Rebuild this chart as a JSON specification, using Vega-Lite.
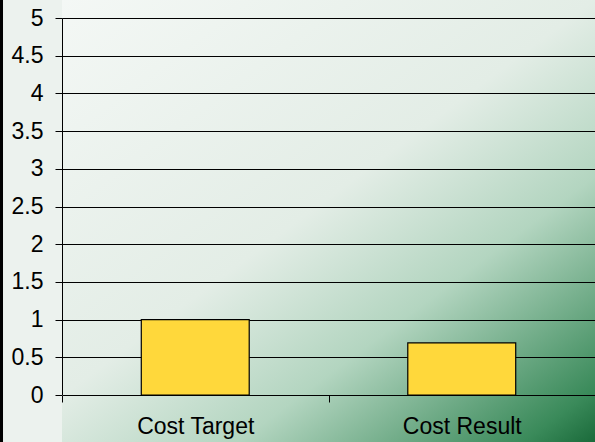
{
  "$schema": "https://vega.github.io/schema/vega-lite/v6.json",
  "width": 533,
  "height": 377,
  "padding": {"left": 62, "top": 18, "right": 0, "bottom": 47},
  "autosize": {"type": "none"},
  "background": "#ecf2ee",
  "view": {
    "stroke": null,
    "fill": {
      "gradient": "linear",
      "x1": -0.0849, "y1": -0.0808, "x2": 1.0861, "y2": 1.0341,
      "stops": [
        {"offset": 0, "color": "#f6f9f7"},
        {"offset": 0.5, "color": "#e3ede6"},
        {"offset": 0.7, "color": "#b3d5c0"},
        {"offset": 0.94, "color": "#3a8a5a"},
        {"offset": 1, "color": "#1a6a3a"}
      ]
    }
  },
  "config": {
    "font": "Liberation Sans",
    "axis": {"labelFont": "Liberation Sans", "labelFontSize": 23, "labelColor": "#000", "title": null}
  },
  "resolve": {"axis": {"x": "independent", "y": "independent"}},
  "data": {"values": [
    {"category": "Cost Target", "value": 1},
    {"category": "Cost Result", "value": 0.69}
  ]},
  "layer": [
    {
      "mark": {"type": "bar", "fill": "#ffd83b", "stroke": "#000", "strokeWidth": 1.2, "width": {"band": 0.405}},
      "encoding": {
        "x": {
          "field": "category", "type": "nominal", "sort": null,
          "scale": {"paddingInner": 0, "paddingOuter": 0},
          "axis": {
            "zindex": 1, "labelAngle": 0, "domainColor": "#000", "domainWidth": 1,
            "tickColor": "#000", "tickSize": 7, "tickBand": "extent", "labelPadding": 13, "grid": false
          }
        },
        "y": {
          "field": "value", "type": "quantitative",
          "scale": {"domain": [0, 5], "nice": false, "zero": true},
          "axis": {
            "values": [0, 0.5, 1, 1.5, 2, 2.5, 3, 3.5, 4, 4.5, 5],
            "format": ".1~f", "domainColor": "#000", "domainWidth": 1,
            "tickColor": "#000", "tickSize": 7, "labelPadding": 12,
            "grid": true, "gridColor": "#000", "gridWidth": 1, "gridOpacity": 1
          }
        }
      }
    },
    {
      "mark": {"type": "rect", "clip": false, "fill": {
        "gradient": "linear",
        "x1": -0.1161, "y1": -0.0053, "x2": 2.1118, "y2": 0.096,
        "stops": [
          {"offset": 0, "color": "#f6f9f7"},
          {"offset": 0.5, "color": "#e3ede6"},
          {"offset": 0.7, "color": "#b3d5c0"},
          {"offset": 0.94, "color": "#3a8a5a"},
          {"offset": 1, "color": "#1a6a3a"}
        ]
      }},
      "encoding": {
        "y": {"datum": 5, "type": "quantitative", "axis": null},
        "y2": {"datum": 5.2387}
      }
    },
    {
      "mark": {"type": "rect", "clip": false, "fill": {
        "gradient": "linear",
        "x1": -1.0984, "y1": -0.1303, "x2": 1.1031, "y2": 0.1309,
        "stops": [
          {"offset": 0, "color": "#f6f9f7"},
          {"offset": 0.5, "color": "#e3ede6"},
          {"offset": 0.7, "color": "#b3d5c0"},
          {"offset": 0.94, "color": "#3a8a5a"},
          {"offset": 1, "color": "#1a6a3a"}
        ]
      }},
      "encoding": {
        "y": {"datum": -0.6233, "type": "quantitative", "axis": null},
        "y2": {"datum": 0}
      }
    },
    {
      "mark": {"type": "rule", "clip": false, "color": "#000", "strokeWidth": 3},
      "encoding": {
        "x": {"datum": "Cost Target", "type": "nominal", "bandPosition": -0.227, "axis": null},
        "y": {"datum": -0.6233, "type": "quantitative", "axis": null},
        "y2": {"datum": 5.2387}
      }
    }
  ]
}
